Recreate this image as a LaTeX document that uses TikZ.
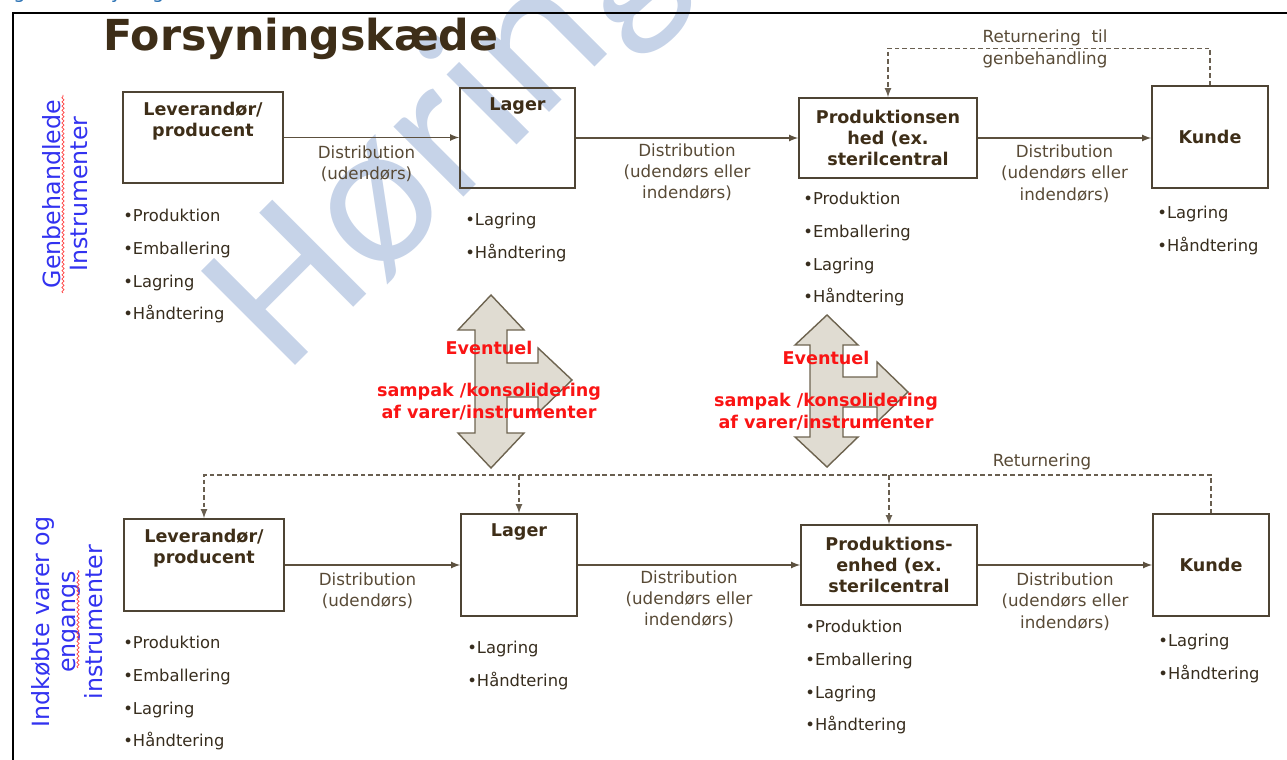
\documentclass[tikz,border=0pt]{standalone}
\usepackage{fontspec}
\setmainfont{DejaVu Sans}
\newfontfamily\wmfont{Carlito}
\usepackage{tikz}
\usetikzlibrary{arrows,positioning,decorations.pathmorphing}

\definecolor{boxline}{RGB}{78,68,52}
\definecolor{boxtext}{RGB}{62,46,24}
\definecolor{bultext}{RGB}{55,45,30}
\definecolor{disttext}{RGB}{88,74,54}
\definecolor{flowline}{RGB}{92,80,62}
\definecolor{retline}{RGB}{105,95,80}
\definecolor{bigfill}{RGB}{224,220,210}
\definecolor{bigline}{RGB}{110,100,80}
\definecolor{redtxt}{RGB}{250,20,20}
\definecolor{sideblue}{RGB}{50,50,240}
\definecolor{wmblue}{RGB}{198,211,232}
\definecolor{capblue}{RGB}{46,116,181}

\begin{document}
\begin{tikzpicture}[x=0.02cm,y=-0.02cm,
	box/.style={draw=boxline,line width=0.9pt,inner sep=0pt},
	boxtxt/.style={font=\fontsize{10}{12}\selectfont\bfseries,text=boxtext,align=center,inner sep=0pt},
	bullets/.style={font=\fontsize{9.3}{18.6}\selectfont,text=bultext,align=left,inner sep=0pt,anchor=north west},
	distlbl/.style={font=\fontsize{9.5}{12}\selectfont,text=disttext,align=center,inner sep=0pt},
	flow/.style={draw=flowline,line width=0.8pt,-latex},
	ret/.style={draw=retline,line width=0.8pt,dash pattern=on 2.6pt off 1.7pt,-latex},
	bigarrow/.style={draw=bigline,fill=bigfill,line width=0.8pt,line join=miter},
	redlbl/.style={font=\fontsize{10}{12.5}\selectfont\bfseries,text=redtxt,align=center,inner sep=0pt},
	sidelbl/.style={font=\fontsize{13.5}{15}\selectfont,text=sideblue,align=center,rotate=90,inner sep=0pt},
	squig/.style={draw=red!75,line width=0.4pt,decorate,decoration={snake,amplitude=0.6pt,segment length=2.4pt}}]

	\useasboundingbox (0,0) rectangle (1287,760);

	% watermark and caption
	\node[text=wmblue,font=\wmfont\fontsize{118}{118}\selectfont,rotate=45] (wm) at (448,138) {Høring};
	\node[text=capblue,font=\fontsize{11}{13}\selectfont,anchor=base west,inner sep=0pt] (cap) at (-2,-1) {Figur 1 Forsyningskæde};

	% frame and title
	\draw[line width=1.5pt] (13,760) -- (13,13) -- (1287,13);
	\node[font=\fontsize{24.3}{28}\selectfont\bfseries,text=boxtext,anchor=base west,inner sep=0pt] (title) at (103,51) {Forsyningskæde};

	% side labels
	\node[sidelbl] (side1) at (65,194) {Genbehandlede\\Instrumenter};
	\draw[squig] (63,293) -- (63,95);
	\node[sidelbl,font=\fontsize{13.5}{15.2}\selectfont] (side2) at (67,622) {Indkøbte varer og\\engangs\\instrumenter};
	\draw[squig] (78,668) -- (78,570);

	% Top row
	\node[box,minimum width=3.2cm,minimum height=1.82cm] (lev1) at (203,137.5) {};
	\node[boxtxt,anchor=north,yshift=-0.21cm] (lev1t) at (lev1.north) {Leverandør/\\producent};
	\node[box,minimum width=2.3cm,minimum height=2cm] (lag1) at (517.5,138) {};
	\node[boxtxt,anchor=north,yshift=-0.21cm] (lag1t) at (lag1.north) {Lager};
	\node[box,boxtxt,draw=boxline,minimum width=3.56cm,minimum height=1.6cm] (prod1) at (888,138) {Produktionsen\\hed (ex.\\sterilcentral};
	\node[box,boxtxt,draw=boxline,minimum width=2.32cm,minimum height=2.04cm] (kun1) at (1210,137) {Kunde};

	\draw[flow] (lev1.east) -- (lev1.east -| lag1.west) node[midway,below=0.15cm,distlbl,xshift=-0.1cm] (d1) {Distribution\\(udendørs)};
	\draw[flow] (lag1.east) -- (lag1.east -| prod1.west) node[midway,below=0.1cm,distlbl] (d2) {Distribution\\(udendørs eller\\indendørs)};
	\draw[flow] (prod1.east) -- (prod1.east -| kun1.west) node[midway,below=0.13cm,distlbl] (d3) {Distribution\\(udendørs eller\\indendørs)};

	\node[bullets] (b1) at (123,209) {•Produktion\\•Emballering\\•Lagring\\•Håndtering};
	\node[bullets] (b2) at (465,213) {•Lagring\\•Håndtering};
	\node[bullets] (b3) at (803,192) {•Produktion\\•Emballering\\•Lagring\\•Håndtering};
	\node[bullets] (b4) at (1157,206) {•Lagring\\•Håndtering};

	% return to reprocessing
	\draw[ret] (kun1.north) -- ++(0,-37) -| (prod1.north);
	\node[distlbl,font=\fontsize{9.5}{12.5}\selectfont] (r1) at (1045,49) {Returnering~ til\\genbehandling};

	% Consolidation arrows
	\draw[bigarrow] (491,295) -- (524,330) -- (507,330) -- (507,363) -- (538,363) -- (538,348) -- (572,380) -- (538,413) -- (538,397) -- (507,397) -- (507,433) -- (524,433) -- (491,468) -- (458,433) -- (475,433) -- (475,330) -- (458,330) -- cycle;
	\draw[bigarrow] (827,315) -- (858,345) -- (843,345) -- (843,377) -- (877,377) -- (877,362) -- (908,392) -- (877,422) -- (877,407) -- (843,407) -- (843,437) -- (858,437) -- (827,467) -- (795,437) -- (810,437) -- (810,345) -- (795,345) -- cycle;
	\node[redlbl] (e1) at (489,348) {Eventuel};
	\node[redlbl] (s1) at (489,402) {sampak /konsolidering\\af varer/instrumenter};
	\node[redlbl] (e2) at (826,358) {Eventuel};
	\node[redlbl] (s2) at (826,412) {sampak /konsolidering\\af varer/instrumenter};

	% Bottom row
	\node[box,minimum width=3.2cm,minimum height=1.84cm] (lev2) at (204,565) {};
	\node[boxtxt,anchor=north,yshift=-0.21cm] (lev2t) at (lev2.north) {Leverandør/\\producent};
	\node[box,minimum width=2.32cm,minimum height=2.04cm] (lag2) at (519,565) {};
	\node[boxtxt,anchor=north,yshift=-0.21cm] (lag2t) at (lag2.north) {Lager};
	\node[box,boxtxt,draw=boxline,minimum width=3.52cm,minimum height=1.6cm] (prod2) at (889,565) {Produktions-\\enhed (ex.\\sterilcentral};
	\node[box,boxtxt,draw=boxline,minimum width=2.32cm,minimum height=2.04cm] (kun2) at (1211,565) {Kunde};

	\draw[flow] (lev2.east) -- (lev2.east -| lag2.west) node[midway,below=0.15cm,distlbl,xshift=-0.1cm] (d4) {Distribution\\(udendørs)};
	\draw[flow] (lag2.east) -- (lag2.east -| prod2.west) node[midway,below=0.1cm,distlbl] (d5) {Distribution\\(udendørs eller\\indendørs)};
	\draw[flow] (prod2.east) -- (prod2.east -| kun2.west) node[midway,below=0.15cm,distlbl] (d6) {Distribution\\(udendørs eller\\indendørs)};

	\node[bullets] (b5) at (123,636) {•Produktion\\•Emballering\\•Lagring\\•Håndtering};
	\node[bullets] (b6) at (467,641) {•Lagring\\•Håndtering};
	\node[bullets] (b7) at (805,620) {•Produktion\\•Emballering\\•Lagring\\•Håndtering};
	\node[bullets] (b8) at (1158,634) {•Lagring\\•Håndtering};

	% return
	\coordinate (rb) at (1211,475);
	\draw[ret] (kun2.north) -- (rb) -| (lev2.north);
	\draw[ret] (rb -| lag2.north) -- (lag2.north);
	\draw[ret] (rb -| prod2.north) -- (prod2.north);
	\node[distlbl] (r2) at (1042,462) {Returnering};
\end{tikzpicture}
\end{document}
